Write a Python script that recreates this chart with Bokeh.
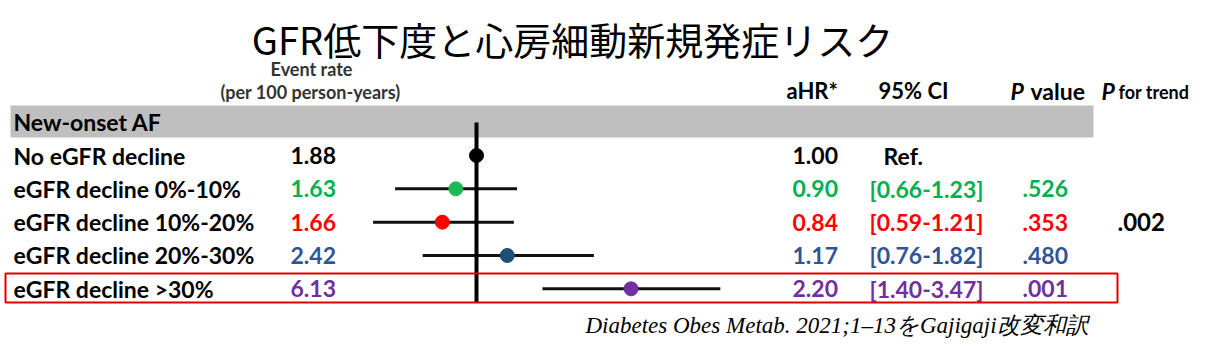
import math
from bokeh.plotting import figure
from bokeh.models import ColumnDataSource, Range1d, LabelSet, Label, BoxAnnotation
from bokeh.core.properties import value
from bokeh.embed import file_html
from bokeh.resources import INLINE

# ---------------- data ----------------
title_text = "GFR低下度と心房細動新規発症リスク"
section = "New-onset AF"
groups = ["No eGFR decline", "eGFR decline 0%-10%", "eGFR decline 10%-20%",
          "eGFR decline 20%-30%", "eGFR decline >30%"]
event_rate = [1.88, 1.63, 1.66, 2.42, 6.13]
ahr = [1.00, 0.90, 0.84, 1.17, 2.20]
ci_lo = [1.00, 0.66, 0.59, 0.76, 1.40]
ci_hi = [1.00, 1.23, 1.21, 1.82, 3.47]
ci_text = ["Ref.", "[0.66-1.23]", "[0.59-1.21]", "[0.76-1.82]", "[1.40-3.47]"]
p_values = ["", ".526", ".353", ".480", ".001"]
p_trend = ".002"
colors = ["#000000", "#00B050", "#FF0000", "#2F5597", "#7030A0"]
dot_colors = ["#000000", "#1DB954", "#FF0000", "#1F4E79", "#7030A0"]
citation = "Diabetes Obes Metab. 2021;1\u201313をGajigaji改変和訳"

# ---------------- layout ----------------
W, H = 1215, 352
X_REF_PX = 476.0      # pixel of HR = 1
PX_PER_LN = 196.0     # pixels per ln unit
ROW0_PX = 155.0
ROW_STEP = 33.33

def py(p):
    """pixel-from-top -> row coordinate"""
    return (p - ROW0_PX) / ROW_STEP

rows = list(range(len(groups)))

p = figure(width=W, height=H, x_axis_type="log",
           x_range=Range1d(math.exp(-X_REF_PX / PX_PER_LN), math.exp((W - X_REF_PX) / PX_PER_LN)),
           y_range=Range1d(py(H), py(0)),
           x_axis_location=None, y_axis_location=None,
           output_backend="svg", toolbar_location=None, min_border=0)
p.grid.visible = False
p.outline_line_color = None
p.background_fill_color = "white"
p.border_fill_color = "white"

# grey section band
p.add_layout(BoxAnnotation(left=10, right=1093, left_units="screen", right_units="screen",
                           top=py(105), bottom=py(137), fill_color="#BFBFBF", fill_alpha=1.0,
                           line_color=None, level="underlay"))

# red highlight box around last row
p.add_layout(BoxAnnotation(left=5, right=1117, left_units="screen", right_units="screen",
                           top=py(273), bottom=py(302), fill_alpha=0, line_color="#E00000",
                           line_alpha=1.0, line_width=2))

TF = "Lato"
FS = "23px"

def labelset(xpx, texts, cols, size=FS, style="bold", font=TF, align="left", ys=None, offs=None):
    n = len(texts)
    src = ColumnDataSource(dict(y=ys if ys is not None else rows, text=texts, color=cols,
                                off=offs if offs is not None else [0] * n))
    ls = LabelSet(x=xpx, y="y", text="text", x_units="screen", source=src, x_offset="off",
                  text_color="color", text_font=value(font), text_font_size=value(size),
                  text_font_style=value(style), text_baseline=value("middle"),
                  text_align=value(align))
    p.add_layout(ls)

def label(xpx, ypx, text, size=FS, style="bold", font=TF, color="#000000", align="left"):
    p.add_layout(Label(x=xpx, y=py(ypx), x_units="screen", text=text,
                       text_font=font, text_font_size=size, text_font_style=style,
                       text_color=color, text_baseline="middle", text_align=align))

# title
label(572, 38, title_text, size="38px", style="normal", font="Noto Sans CJK JP", align="center")

# headers
label(311, 68, "Event rate", size="18px", color="#333333", align="center")
label(310, 91, "(per 100 person-years)", size="18px", color="#333333", align="center")
label(786, 90, "aHR*", size="22px")
label(878, 90, "95% CI", size="22px")
label(1010, 90, "P", size="23px", style="bold italic")
label(1030, 90, "value", size="23px")
label(1101, 90, "P", size="23px", style="bold italic")
label(1118, 91, "for trend", size="18px")
label(13, 121, section)

# table columns
labelset(13, groups, ["#000000"] * len(groups))
labelset(290, [f"{v:.2f}" for v in event_rate], colors)
labelset(792, [f"{v:.2f}" for v in ahr], colors)
labelset(869, ci_text, colors, offs=[14, 0, 0, 0, 0])
labelset(1022, p_values, colors)
labelset(1117, [p_trend], ["#000000"], ys=[2], size="24px")

# forest plot
ci_src = ColumnDataSource(dict(y=rows[1:], lo=ci_lo[1:], hi=ci_hi[1:]))
p.segment(x0="lo", x1="hi", y0="y", y1="y", source=ci_src, line_color="#111111", line_width=3)
p.segment(x0=[1.0], x1=[1.0], y0=[py(122)], y1=[py(302)], line_color="#000000", line_width=4)
pt_src = ColumnDataSource(dict(y=rows, x=ahr, c=dot_colors))
p.scatter(x="x", y="y", source=pt_src, size=14, fill_color="c", line_color="c")

# citation
label(585, 325, citation, size="23px", style="italic", font="Liberation Serif")

open("out.html", "w").write(file_html(p, INLINE))
